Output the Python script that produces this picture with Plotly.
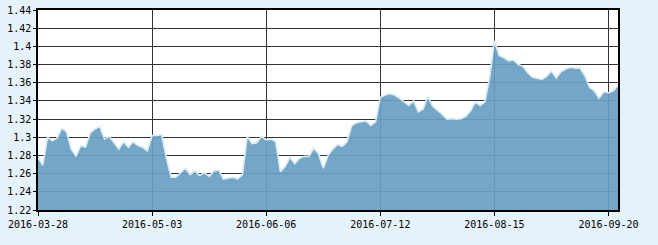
import pandas as pd
import plotly.graph_objects as go

# trading-day calendar (weekdays minus market holidays)
holidays = ["2016-04-04", "2016-05-02", "2016-06-09", "2016-06-10", "2016-09-15", "2016-09-16"]
dates = [d.strftime("%Y-%m-%d") for d in pd.bdate_range("2016-03-28", "2016-09-22")
         if d.strftime("%Y-%m-%d") not in holidays]

values = [
    1.278, 1.269, 1.300, 1.296, 1.299, 1.310, 1.306, 1.287, 1.279, 1.291,
    1.289, 1.305, 1.309, 1.312, 1.298, 1.301, 1.294, 1.287, 1.295, 1.289,
    1.295, 1.291, 1.289, 1.285, 1.302, 1.302, 1.303, 1.277, 1.256, 1.256,
    1.261, 1.266, 1.259, 1.263, 1.258, 1.261, 1.257, 1.263, 1.264, 1.254,
    1.255, 1.256, 1.254, 1.259, 1.301, 1.293, 1.294, 1.301, 1.297, 1.298,
    1.295, 1.262, 1.268, 1.278, 1.271, 1.277, 1.279, 1.279, 1.288, 1.282,
    1.266, 1.280, 1.287, 1.292, 1.290, 1.295, 1.313, 1.316, 1.317, 1.318,
    1.313, 1.317, 1.344, 1.3465, 1.348, 1.3465, 1.343, 1.339, 1.335, 1.340,
    1.328, 1.331, 1.345, 1.334, 1.330, 1.3255, 1.320, 1.3205, 1.320, 1.3205,
    1.323, 1.329, 1.339, 1.335, 1.339, 1.366, 1.406, 1.390, 1.3875, 1.384,
    1.385, 1.380, 1.378, 1.371, 1.366, 1.365, 1.3637, 1.367, 1.373, 1.365,
    1.372, 1.375, 1.377, 1.376, 1.376, 1.368, 1.355, 1.351, 1.343, 1.350,
    1.349, 1.351, 1.357,
]

x_tick_labels = ["2016-03-28", "2016-05-03", "2016-06-06", "2016-07-12", "2016-08-15", "2016-09-20"]
y_tick_vals = [1.22, 1.24, 1.26, 1.28, 1.30, 1.32, 1.34, 1.36, 1.38, 1.40, 1.42, 1.44]
y_tick_labels = ["1.22", "1.24", "1.26", "1.28", "1.3", "1.32", "1.34", "1.36", "1.38", "1.4", "1.42", "1.44"]

n = min(len(dates), len(values))
dates = dates[:n]
values = values[:n]

fig = go.Figure()
fig.add_trace(go.Scatter(
    x=dates, y=values, mode="lines",
    fill="tozeroy", fillcolor="rgba(104,160,194,0.92)",
    line=dict(color="#d8ecf8", width=1.6),
    hoverinfo="x+y",
))

font = dict(family="DejaVu Sans Mono, Liberation Mono, monospace", size=10, color="#000")

fig.update_layout(
    width=658, height=245,
    margin=dict(l=38, r=40, t=10, b=35),
    paper_bgcolor="#e6f2fa",
    plot_bgcolor="#ffffff",
    showlegend=False,
    font=font,
    xaxis=dict(
        type="category",
        range=[0, n - 1],
        tickmode="array",
        tickvals=x_tick_labels,
        ticktext=x_tick_labels,
        showgrid=True, gridcolor="#333333", gridwidth=1,
        showline=True, linecolor="#000", linewidth=1.5, mirror=True,
        ticks="outside", ticklen=4, tickcolor="#000",
        tickangle=0,
        tickfont=font,
        automargin=False,
    ),
    yaxis=dict(
        range=[1.22, 1.44],
        tickmode="array",
        tickvals=y_tick_vals,
        ticktext=y_tick_labels,
        showgrid=True, gridcolor="#333333", gridwidth=1,
        showline=True, linecolor="#000", linewidth=1.5, mirror=True,
        ticks="outside", ticklen=3, tickcolor="#000",
        zeroline=False,
        tickfont=font,
        automargin=False,
    ),
)

fig.write_html("out.html")
